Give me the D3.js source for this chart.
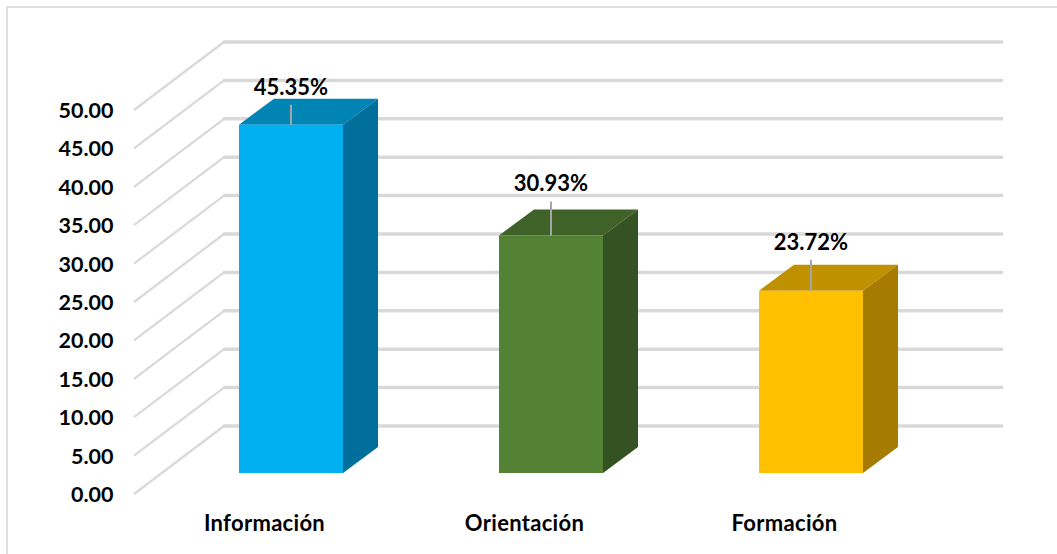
<!DOCTYPE html>
<meta charset="utf-8">
<style>
  body { margin: 0; background: #fff; overflow: hidden; }
  text { font-family: Lato, "Open Sans", sans-serif; font-weight: 700; fill: #000; }
  .tick { font-size: 21.5px; text-anchor: end; }
  .cat { font-size: 22px; letter-spacing: 0.3px; text-anchor: middle; }
  .val { font-size: 22px; text-anchor: middle; }
</style>
<svg width="1057" height="554"></svg>
<script src="https://d3js.org/d3.v7.min.js"></script>
<script>
// Data
var categories = ["Información", "Orientación", "Formación"];
var values = [45.35, 30.93, 23.72];
var valueLabels = ["45.35%", "30.93%", "23.72%"];
var ticks = [0, 5, 10, 15, 20, 25, 30, 35, 40, 45, 50];
var faceColors = ["#00b0f0", "#548235", "#ffc000"];
var topColors = ["#0084b4", "#3f6228", "#bf9000"];
var sideColors = ["#006f9b", "#355322", "#a67c00"];

var svg = d3.select("svg");

// Layout of the fake 3d box
var floorY = 494, plotH = 384;
var wallDx = 90, wallDy = -68;     // floor front edge -> back wall
var barDx = 35, barDy = -26;       // bar depth
var barBase = 473;                 // front bottom of the bars

var y = d3.scaleLinear().domain([0, 50]).range([0, plotH]);
var x = d3.scaleBand().domain(categories).range([161, 941]).paddingInner(0.6).paddingOuter(0.3);

// Frame, right and bottom edges fall outside the picture
svg.append("rect")
    .attr("x", 7).attr("y", 7)
    .attr("width", 1100).attr("height", 600)
    .attr("fill", "#fff").attr("stroke", "#dedede").attr("stroke-width", 2);

// Gridlines: diagonal on the side wall, then flat on the back wall
var grid = svg.append("g").attr("fill", "none").attr("stroke", "#d9d9d9");
grid.selectAll(".diag")
    .data(ticks)
    .enter().append("path")
    .attr("class", "diag")
    .attr("stroke-width", 2.2)
    .attr("d", function (d) {
      var y0 = floorY - y(d);
      return d3.line()([[134, y0], [134 + wallDx, y0 + wallDy]]);
    });
grid.selectAll(".flat")
    .data(ticks)
    .enter().append("path")
    .attr("class", "flat")
    .attr("stroke-width", 3.5)
    .attr("d", function (d) {
      var y0 = floorY - y(d);
      return d3.line()([[133 + wallDx, y0 + wallDy], [1003, y0 + wallDy]]);
    });

// Tick labels
svg.append("g").selectAll("text")
    .data(ticks)
    .enter().append("text")
    .attr("class", "tick")
    .attr("x", 113.5)
    .attr("y", function (d) { return floorY - y(d) + 8; })
    .text(function (d) { return d.toFixed(2); });

// Bars
var bars = svg.append("g").selectAll("g")
    .data(values)
    .enter().append("g");

function poly(points) {
  return d3.line()(points) + "Z";
}

bars.append("path")
    .attr("fill", function (d, i) { return topColors[i]; })
    .attr("d", function (d, i) {
      var x0 = x(categories[i]), w = x.bandwidth(), t = barBase - y(d);
      return poly([[x0, t], [x0 + barDx, t + barDy], [x0 + w + barDx, t + barDy], [x0 + w, t]]);
    });
bars.append("path")
    .attr("fill", function (d, i) { return sideColors[i]; })
    .attr("d", function (d, i) {
      var x1 = x(categories[i]) + x.bandwidth(), t = barBase - y(d);
      return poly([[x1, t], [x1 + barDx, t + barDy], [x1 + barDx, barBase + barDy], [x1, barBase]]);
    });
bars.append("rect")
    .attr("fill", function (d, i) { return faceColors[i]; })
    .attr("x", function (d, i) { return x(categories[i]); })
    .attr("y", function (d) { return barBase - y(d); })
    .attr("width", x.bandwidth())
    .attr("height", function (d) { return y(d); });

// Leader lines and value labels, label offsets as placed in the original
var leaderLen = [20, 34, 31];
bars.append("line")
    .attr("stroke", "#a6a6a6")
    .attr("stroke-width", 2)
    .attr("x1", function (d, i) { return x(categories[i]) + x.bandwidth() / 2; })
    .attr("x2", function (d, i) { return x(categories[i]) + x.bandwidth() / 2; })
    .attr("y1", function (d) { return barBase - y(d); })
    .attr("y2", function (d, i) { return barBase - y(d) - leaderLen[i]; });
bars.append("text")
    .attr("class", "val")
    .attr("x", function (d, i) { return x(categories[i]) + x.bandwidth() / 2; })
    .attr("y", function (d, i) { return barBase - y(d) - leaderLen[i] - 10; })
    .text(function (d, i) { return valueLabels[i]; });

// Category labels
svg.append("g").selectAll("text")
    .data(categories)
    .enter().append("text")
    .attr("class", "cat")
    .attr("x", function (d) { return x(d) + x.bandwidth() / 2 - 26.5; })
    .attr("y", 531)
    .text(function (d) { return d; });
</script>
